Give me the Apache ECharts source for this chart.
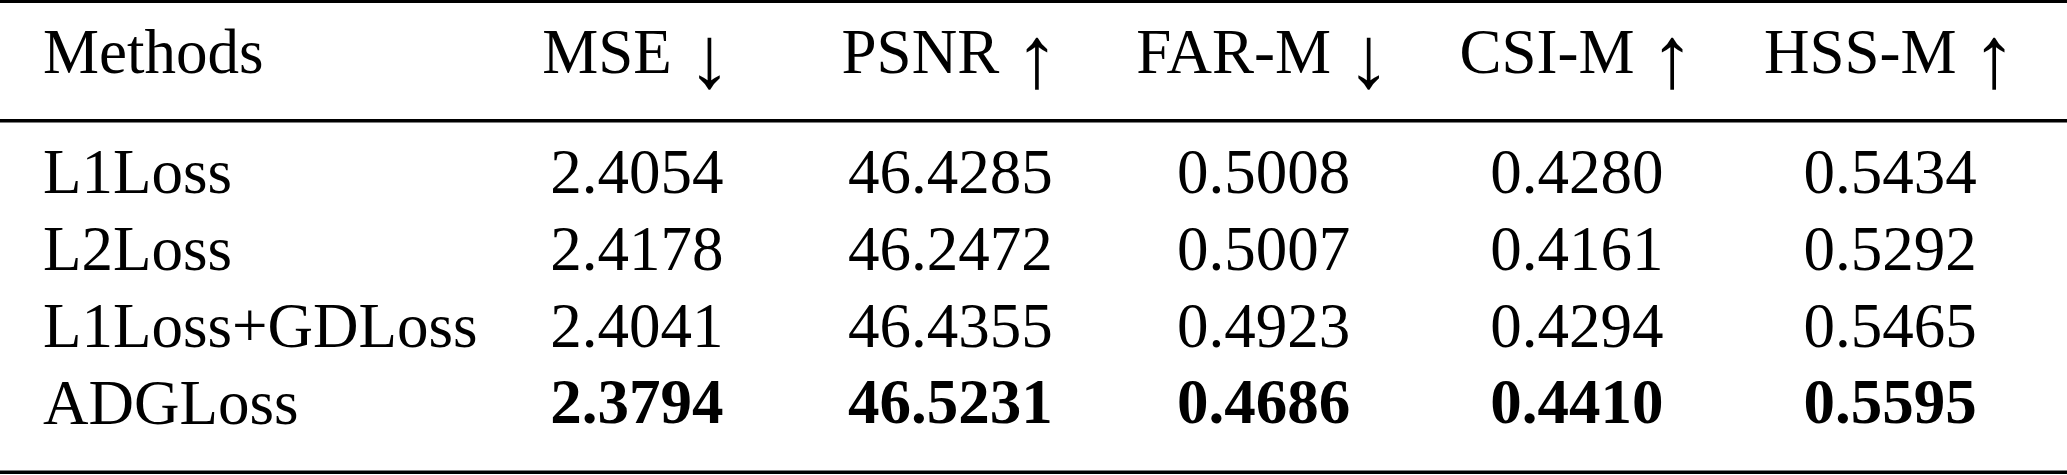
<!DOCTYPE html>
<html>
<head>
<meta charset="utf-8">
<script src="https://cdn.jsdelivr.net/npm/echarts@6/dist/echarts.min.js"></script>
<style>
html,body{margin:0;padding:0;background:#fff;}
#chart{width:2067px;height:475px;}
</style>
</head>
<body>
<div id="chart"></div>
<script>
// ---- data ----
var methodsHeader = 'Methods';
var methods = ['L1Loss', 'L2Loss', 'L1Loss+GDLoss', 'ADGLoss'];
var metrics = ['MSE ↓', 'PSNR ↑', 'FAR-M ↓', 'CSI-M ↑', 'HSS-M ↑'];
var lowerIsBetter = [true, false, true, false, false];
var MSE   = [2.4054, 2.4178, 2.4041, 2.3794];
var PSNR  = [46.4285, 46.2472, 46.4355, 46.5231];
var FAR_M = [0.5008, 0.5007, 0.4923, 0.4686];
var CSI_M = [0.4280, 0.4161, 0.4294, 0.4410];
var HSS_M = [0.5434, 0.5292, 0.5465, 0.5595];
var columns = [MSE, PSNR, FAR_M, CSI_M, HSS_M];

// ---- build ----
var FONT = "'Liberation Serif','Times New Roman','DejaVu Serif',serif";
var FS = 63;
var cells = [];
columns.forEach(function (col, ci) {
  var best = lowerIsBetter[ci] ? Math.min.apply(null, col) : Math.max.apply(null, col);
  col.forEach(function (v, ri) {
    cells.push({
      value: [ci, ri, v],
      label: { fontWeight: v === best ? 'bold' : 'normal' }
    });
  });
});

var chart = echarts.init(document.getElementById('chart'), null, { renderer: 'canvas' });
chart.setOption({
  backgroundColor: '#ffffff',
  animation: false,
  grid: { left: 480.3, right: 20.2, top: 137.5, bottom: 29.5, containLabel: false },
  xAxis: {
    type: 'category',
    data: metrics,
    position: 'top',
    axisLine: { show: false },
    axisTick: { show: false },
    splitLine: { show: false },
    axisLabel: {
      margin: 81.5,
      verticalAlign: 'middle',
      color: '#000',
      fontFamily: FONT,
      fontSize: FS,
      interval: 0,
      formatter: function (v) {
        var m = v.match(/^(.*) ([↑↓])$/);
        return m ? '{t|' + m[1] + ' }{a|' + m[2] + '}' : v;
      },
      rich: {
        t: { color: '#000', fontFamily: FONT, fontSize: FS, lineHeight: 70, verticalAlign: 'middle' },
        a: { color: '#000', fontFamily: FONT, fontSize: 88, lineHeight: 70, verticalAlign: 'middle', padding: [16, 0, 0, 0] }
      }
    }
  },
  yAxis: {
    type: 'category',
    data: methods,
    inverse: true,
    offset: 437.3,
    axisLine: { show: false },
    axisTick: { show: false },
    splitLine: { show: false },
    axisLabel: {
      margin: 0,
      interval: 0,
      align: 'left',
      verticalAlign: 'middle',
      color: '#000',
      fontFamily: FONT,
      fontSize: FS
    },
    name: methodsHeader,
    nameLocation: 'start',
    nameGap: 81.5,
    nameTextStyle: {
      align: 'left',
      verticalAlign: 'middle',
      color: '#000',
      fontFamily: FONT,
      fontSize: FS
    }
  },
  graphic: [
    { type: 'rect', left: 0, top: 0, shape: { width: 2067, height: 3 }, style: { fill: '#000' } },
    { type: 'rect', left: 0, top: 119, shape: { width: 2067, height: 3.5 }, style: { fill: '#000' } },
    { type: 'rect', left: 0, top: 470.5, shape: { width: 2067, height: 3.5 }, style: { fill: '#000' } }
  ],
  series: [{
    type: 'scatter',
    symbolSize: 0,
    itemStyle: { opacity: 0 },
    data: cells,
    label: {
      show: true,
      position: 'inside',
      align: 'center',
      verticalAlign: 'middle',
      color: '#000',
      opacity: 1,
      textBorderWidth: 0,
      textBorderColor: 'transparent',
      fontFamily: FONT,
      fontSize: FS,
      formatter: function (p) { return p.value[2].toFixed(4); }
    },
    emphasis: { disabled: true }
  }]
});
</script>
</body>
</html>
